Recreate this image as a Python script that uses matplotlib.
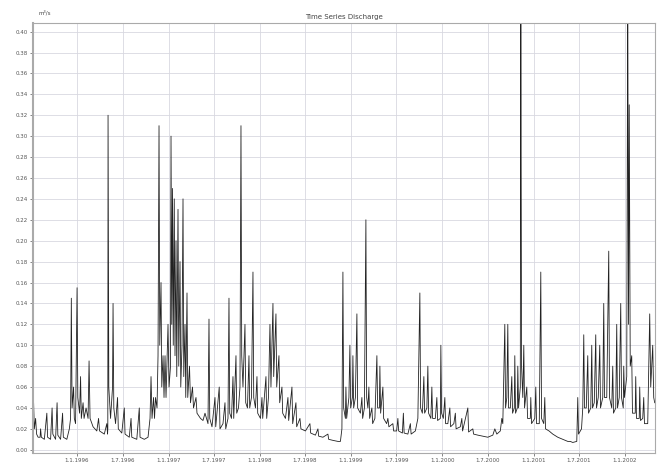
import matplotlib
matplotlib.use("Agg")
import matplotlib.pyplot as plt
import matplotlib.dates as mdates
import numpy as np
import pandas as pd

# discharge series (days after start date, m3/s)
start_date = "1995-07-09"
days = [0, 2, 5, 10, 14, 20, 28, 30, 33, 45, 55, 58, 70, 76, 79, 90, 96, 99, 110, 118,
        121, 135, 145, 150, 153, 156, 162, 165, 170, 176, 179, 186, 190, 193, 200, 204, 212, 220, 224, 228,
        240, 255, 262, 266, 285, 295, 298, 299, 300, 303, 310, 318, 320, 323, 330, 338, 341, 355, 365, 368,
        385, 392, 395, 415, 425, 428, 445, 460, 468, 472, 476, 482, 486, 490, 496, 500, 504, 507, 512, 515,
        520, 524, 528, 532, 540, 544, 550, 552, 555, 558, 561, 565, 568, 572, 575, 580, 583, 588, 591, 596,
        600, 603, 608, 611, 616, 619, 626, 630, 638, 642, 652, 656, 670, 680, 688, 700, 704, 707, 716, 728,
        731, 745, 748, 760, 768, 771, 780, 784, 787, 794, 800, 803, 812, 815, 822, 828, 832, 835, 840, 848,
        851, 858, 864, 867, 874, 880, 883, 890, 896, 899, 910, 916, 919, 932, 935, 942, 948, 952, 960, 963,
        972, 975, 984, 987, 996, 999, 1010, 1020, 1023, 1036, 1039, 1052, 1055, 1068, 1072, 1090, 1108, 1111, 1130, 1140,
        1143, 1160, 1180, 1183, 1200, 1220, 1230, 1236, 1240, 1243, 1250, 1252, 1255, 1264, 1268, 1271, 1278, 1280, 1283, 1290,
        1296, 1299, 1310, 1316, 1319, 1326, 1332, 1335, 1340, 1344, 1347, 1356, 1359, 1368, 1376, 1379, 1386, 1388, 1391, 1400,
        1403, 1415, 1420, 1424, 1440, 1443, 1455, 1460, 1463, 1478, 1482, 1485, 1500, 1510, 1513, 1530, 1540, 1548, 1551, 1558,
        1564, 1567, 1576, 1580, 1583, 1592, 1596, 1599, 1610, 1616, 1619, 1630, 1632, 1635, 1642, 1648, 1651, 1660, 1668, 1671,
        1684, 1690, 1693, 1710, 1716, 1719, 1740, 1743, 1760, 1763, 1780, 1800, 1820, 1840, 1848, 1856, 1870, 1876, 1880, 1888,
        1891, 1896, 1900, 1903, 1910, 1916, 1919, 1926, 1928, 1931, 1938, 1940, 1943, 1950, 1952, 1955, 1960, 1964, 1967, 1976,
        1979, 1990, 1992, 1995, 2008, 2012, 2015, 2026, 2032, 2035, 2044, 2048, 2051, 2065, 2080, 2100, 2120, 2140, 2150, 2160,
        2176, 2180, 2183, 2195, 2200, 2204, 2207, 2214, 2220, 2223, 2232, 2236, 2239, 2246, 2252, 2255, 2262, 2268, 2271, 2280,
        2284, 2287, 2296, 2304, 2307, 2316, 2320, 2323, 2332, 2336, 2339, 2346, 2352, 2355, 2362, 2364, 2367, 2376, 2380, 2383,
        2386, 2390, 2396, 2399, 2410, 2412, 2415, 2426, 2428, 2431, 2440, 2444, 2447, 2460, 2468, 2472, 2480, 2484, 2488]
flow = [0.035, 0.045, 0.02, 0.03, 0.015, 0.012, 0.012, 0.02, 0.012, 0.010, 0.035, 0.012, 0.010, 0.04, 0.015, 0.010, 0.045, 0.014, 0.010, 0.035,
        0.012, 0.010, 0.02, 0.03, 0.145, 0.04, 0.06, 0.03, 0.025, 0.155, 0.05, 0.035, 0.07, 0.03, 0.045, 0.03, 0.04, 0.03, 0.085, 0.03,
        0.022, 0.018, 0.03, 0.018, 0.015, 0.025, 0.015, 0.02, 0.32, 0.06, 0.03, 0.06, 0.14, 0.04, 0.025, 0.05, 0.02, 0.016, 0.04, 0.015,
        0.012, 0.03, 0.012, 0.010, 0.04, 0.012, 0.010, 0.012, 0.03, 0.07, 0.03, 0.05, 0.03, 0.05, 0.04, 0.09, 0.31, 0.10, 0.16, 0.06,
        0.09, 0.05, 0.09, 0.05, 0.12, 0.06, 0.08, 0.30, 0.12, 0.25, 0.10, 0.24, 0.09, 0.20, 0.07, 0.23, 0.08, 0.18, 0.06, 0.10,
        0.24, 0.07, 0.12, 0.05, 0.15, 0.05, 0.08, 0.045, 0.06, 0.04, 0.05, 0.035, 0.03, 0.028, 0.035, 0.025, 0.125, 0.03, 0.022, 0.05,
        0.022, 0.06, 0.02, 0.025, 0.045, 0.02, 0.03, 0.145, 0.035, 0.03, 0.07, 0.03, 0.09, 0.035, 0.04, 0.06, 0.31, 0.09, 0.06, 0.12,
        0.045, 0.04, 0.09, 0.04, 0.05, 0.17, 0.05, 0.04, 0.07, 0.035, 0.03, 0.05, 0.03, 0.07, 0.03, 0.05, 0.12, 0.06, 0.14, 0.07,
        0.13, 0.06, 0.09, 0.045, 0.06, 0.035, 0.03, 0.05, 0.028, 0.06, 0.025, 0.045, 0.022, 0.03, 0.02, 0.018, 0.025, 0.016, 0.014, 0.02,
        0.013, 0.012, 0.015, 0.010, 0.009, 0.008, 0.008, 0.02, 0.17, 0.04, 0.03, 0.06, 0.03, 0.05, 0.10, 0.04, 0.05, 0.09, 0.04, 0.05,
        0.13, 0.04, 0.035, 0.05, 0.03, 0.04, 0.22, 0.05, 0.04, 0.06, 0.03, 0.04, 0.025, 0.03, 0.09, 0.04, 0.04, 0.08, 0.035, 0.06,
        0.03, 0.025, 0.03, 0.022, 0.025, 0.018, 0.018, 0.03, 0.018, 0.016, 0.035, 0.016, 0.015, 0.025, 0.015, 0.018, 0.03, 0.15, 0.04, 0.035,
        0.07, 0.035, 0.04, 0.08, 0.035, 0.03, 0.06, 0.03, 0.03, 0.05, 0.028, 0.03, 0.10, 0.035, 0.03, 0.05, 0.025, 0.025, 0.04, 0.022,
        0.025, 0.035, 0.02, 0.022, 0.03, 0.018, 0.04, 0.017, 0.02, 0.015, 0.014, 0.013, 0.012, 0.014, 0.02, 0.015, 0.018, 0.03, 0.025, 0.12,
        0.04, 0.05, 0.12, 0.04, 0.04, 0.07, 0.035, 0.04, 0.09, 0.035, 0.04, 0.08, 0.04, 0.06, 0.45, 0.08, 0.05, 0.10, 0.04, 0.06,
        0.03, 0.03, 0.05, 0.025, 0.03, 0.06, 0.025, 0.025, 0.17, 0.03, 0.025, 0.05, 0.02, 0.018, 0.015, 0.012, 0.010, 0.008, 0.008, 0.007,
        0.008, 0.05, 0.015, 0.02, 0.04, 0.11, 0.04, 0.04, 0.09, 0.035, 0.04, 0.10, 0.04, 0.045, 0.11, 0.04, 0.05, 0.10, 0.04, 0.05,
        0.14, 0.05, 0.05, 0.19, 0.05, 0.04, 0.08, 0.035, 0.04, 0.12, 0.04, 0.05, 0.14, 0.05, 0.04, 0.08, 0.05, 0.07, 0.45, 0.12,
        0.33, 0.08, 0.09, 0.035, 0.035, 0.07, 0.03, 0.03, 0.06, 0.028, 0.03, 0.05, 0.025, 0.025, 0.13, 0.06, 0.10, 0.05, 0.045]
yticks = np.arange(0, 0.41, 0.02)

dates = pd.Timestamp(start_date) + pd.to_timedelta(days, unit="D")

fig = plt.figure(figsize=(6.62, 4.65), dpi=100)
ax = fig.add_axes([0.05, 0.026, 0.939, 0.924])

ax.plot(dates, flow, color="#222222", lw=0.6)

ax.set_xlim(dates[0], dates[-1])
ax.set_ylim(-0.003, 0.408)
ax.set_yticks(yticks)
ax.yaxis.set_major_formatter(plt.FuncFormatter(lambda v, p: f"{v:.2f}"))
ax.xaxis.set_major_locator(mdates.MonthLocator(bymonth=[1, 7], bymonthday=1))
ax.xaxis.set_major_formatter(plt.FuncFormatter(
    lambda v, p: "{0.day}.{0.month}.{0.year}".format(mdates.num2date(v))))
ax.tick_params(labelsize=4, colors="#555555", length=2, width=0.5, pad=2)

ax.grid(True, color="#d8d8e0", lw=0.6)
for s in ax.spines.values():
    s.set_color("#aaaaaa")
    s.set_linewidth(0.8)
ax.spines["left"].set_linewidth(1.5)

ax.set_title("Time Series Discharge", fontsize=5, color="#444444", pad=3)
fig.text(0.058, 0.972, "m\u00b3/s", fontsize=4, color="#444444", ha="left", va="center")

fig.savefig("out.png", dpi=100)
